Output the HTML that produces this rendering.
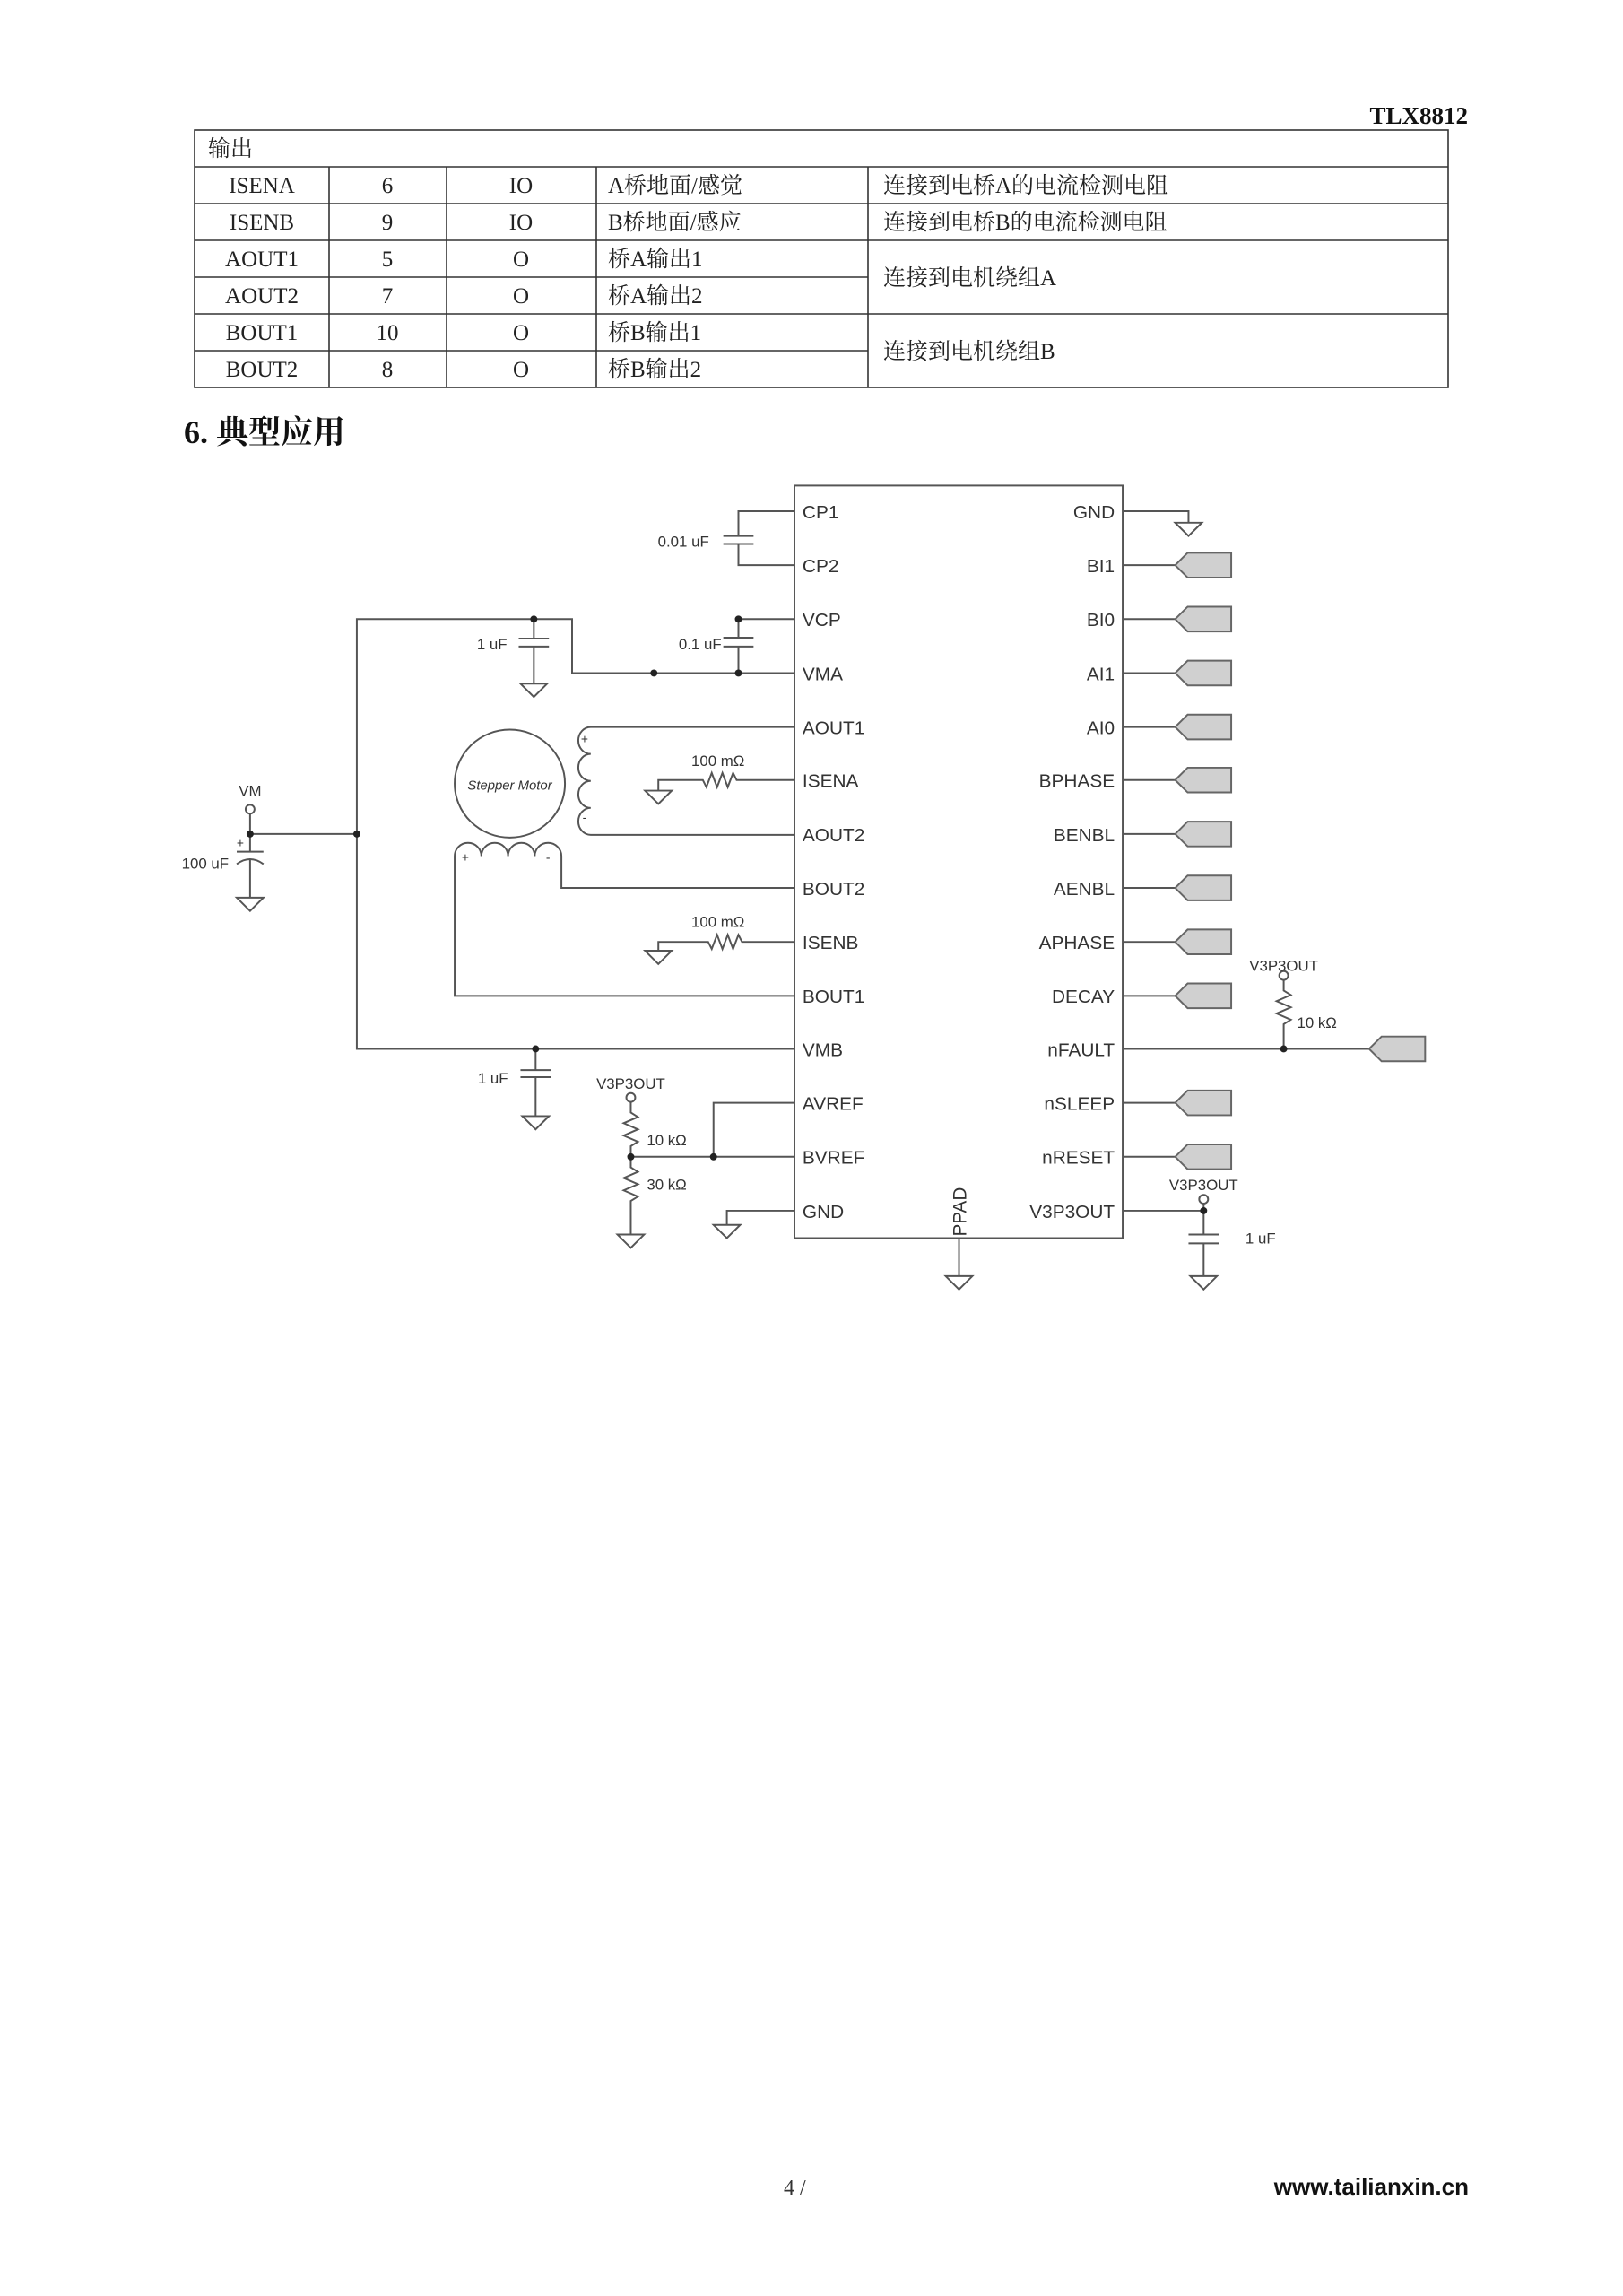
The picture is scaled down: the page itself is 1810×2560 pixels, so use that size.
<!DOCTYPE html>
<html><head><meta charset="utf-8"><style>
html,body{margin:0;padding:0;background:#fff;}
svg{display:block}
.t{font-family:"Liberation Serif","Noto Serif CJK SC",serif;font-size:25px;fill:#222}
.s{font-family:"Liberation Sans",sans-serif;fill:#333}
</style></head><body>
<svg width="1810" height="2560" viewBox="0 0 1810 2560" xmlns="http://www.w3.org/2000/svg">
<!-- header -->
<text x="1637" y="138" text-anchor="end" style="font-family:'Liberation Serif',serif;font-weight:bold;font-size:27px;fill:#111">TLX8812</text>
<!-- table -->
<g stroke="#333" stroke-width="1.6" fill="none">
<rect x="217" y="145" width="1398" height="287"/>
<line x1="217" y1="186" x2="1615" y2="186"/>
<line x1="217" y1="227" x2="1615" y2="227"/>
<line x1="217" y1="268" x2="1615" y2="268"/>
<line x1="217" y1="309" x2="968" y2="309"/>
<line x1="217" y1="350" x2="1615" y2="350"/>
<line x1="217" y1="391" x2="968" y2="391"/>
<line x1="367" y1="186" x2="367" y2="432"/>
<line x1="498" y1="186" x2="498" y2="432"/>
<line x1="665" y1="186" x2="665" y2="432"/>
<line x1="968" y1="186" x2="968" y2="432"/>
</g>
<g class="t">
<text x="232" y="174">输出</text>
<g text-anchor="middle">
<text x="292" y="215">ISENA</text><text x="432" y="215">6</text><text x="581" y="215">IO</text>
<text x="292" y="256">ISENB</text><text x="432" y="256">9</text><text x="581" y="256">IO</text>
<text x="292" y="297">AOUT1</text><text x="432" y="297">5</text><text x="581" y="297">O</text>
<text x="292" y="338">AOUT2</text><text x="432" y="338">7</text><text x="581" y="338">O</text>
<text x="292" y="379">BOUT1</text><text x="432" y="379">10</text><text x="581" y="379">O</text>
<text x="292" y="420">BOUT2</text><text x="432" y="420">8</text><text x="581" y="420">O</text>
</g>
<text x="678" y="215">A桥地面/感觉</text>
<text x="678" y="256">B桥地面/感应</text>
<text x="678" y="297">桥A输出1</text>
<text x="678" y="338">桥A输出2</text>
<text x="678" y="379">桥B输出1</text>
<text x="678" y="420">桥B输出2</text>
<text x="985" y="215">连接到电桥A的电流检测电阻</text>
<text x="985" y="256">连接到电桥B的电流检测电阻</text>
<text x="985" y="318">连接到电机绕组A</text>
<text x="985" y="400">连接到电机绕组B</text>
</g>
<text x="205" y="494" style="font-family:'Liberation Serif','Noto Serif CJK SC',serif;font-weight:bold;font-size:36px;fill:#111">6.  典型应用</text>

<defs>
<g id="gnd"><path d="M-15 0 H15 L0 15 Z" fill="#fff" stroke="#555" stroke-width="2"/></g>
<g id="flag"><path d="M0 0 L14 -14 H63 V14 H14 Z" fill="#d0d0d0" stroke="#666" stroke-width="2"/></g>
</defs>
<g transform="matrix(0.992 0 0 0.986 0.14 7.98)">
<g stroke="#555" stroke-width="2" fill="none">
<rect x="893" y="541" width="369" height="851"/>
<path d="M893 570 H830 V598 M830 607 V631 H893"/>
<path d="M813 598 H847 M813 607 H847"/>
<path d="M401 935 V692 H643 V753 H893"/>
<path d="M830 692 H893 M830 692 V713 M830 723 V753"/>
<path d="M813 713 H847 M813 723 H847"/>
<path d="M600 692 V714 M600 723 V765 M583 714 H617 M583 723 H617"/>
<path d="M281 912 V935 H401 V1178 H893"/>
<path d="M281 935 V955 M266 955 H296 M266 969 Q281 958 296 969 M281 963 V1007"/>
<path d="M893 814 H664 A14 15.25 0 0 0 664 844.5 A14 15.25 0 0 0 664 875 A14 15.25 0 0 0 664 905.5 A14 15.25 0 0 0 664 936 H893"/>
<path d="M893 874 H828 L824 866 L818 882 L812 866 L806 882 L800 866 L794 882 L790 874 H740 V886"/>
<path d="M893 996 H631 V960 A15 15 0 0 0 601 960 A15 15 0 0 0 571 960 A15 15 0 0 0 541 960 A15 15 0 0 0 511 960 V1118 H893"/>
<path d="M893 1057 H834 L830 1049 L824 1065 L818 1049 L812 1065 L806 1049 L800 1065 L796 1057 H740 V1067"/>
<path d="M602 1178 V1202 M602 1210 V1254 M585 1202 H619 M585 1210 H619"/>
<path d="M709 1238 V1250 L717 1255 L701 1262 L717 1269 L701 1276 L717 1283 L709 1288 V1312 L717 1317 L701 1324 L717 1331 L701 1338 L717 1345 L709 1350 V1388"/>
<path d="M709 1300 H893 M802 1300 V1239 H893"/>
<path d="M893 1361 H817 V1377"/>
<path d="M1262 570 H1336 V583"/>
<path d="M1262 631 H1321 M1262 692 H1321 M1262 753 H1321 M1262 814 H1321 M1262 874 H1321 M1262 935 H1321 M1262 996 H1321 M1262 1057 H1321 M1262 1118 H1321 M1262 1239 H1321 M1262 1300 H1321"/>
<path d="M1262 1178 H1539"/>
<path d="M1443 1100 V1112 L1451 1117 L1435 1124 L1451 1131 L1435 1138 L1451 1145 L1443 1150 V1178"/>
<path d="M1262 1361 H1353 M1353 1353 V1388 M1353 1398 V1435 M1336 1388 H1370 M1336 1398 H1370"/>
<path d="M1078 1392 V1435"/>
</g>
<g fill="#fff" stroke="#555" stroke-width="2">
<circle cx="281" cy="907" r="5"/>
<circle cx="709" cy="1233" r="5"/>
<circle cx="1443" cy="1095" r="5"/>
<circle cx="1353" cy="1348" r="5"/>
<ellipse cx="573" cy="878" rx="62" ry="61"/>
</g>
<g fill="#222">
<circle cx="401" cy="935" r="4"/><circle cx="281" cy="935" r="4"/>
<circle cx="600" cy="692" r="4"/><circle cx="830" cy="692" r="4"/>
<circle cx="735" cy="753" r="4"/><circle cx="830" cy="753" r="4"/>
<circle cx="602" cy="1178" r="4"/><circle cx="709" cy="1300" r="4"/><circle cx="802" cy="1300" r="4"/>
<circle cx="1443" cy="1178" r="4"/><circle cx="1353" cy="1361" r="4"/>
</g>
<use href="#gnd" x="600" y="765"/><use href="#gnd" x="281" y="1007"/>
<use href="#gnd" x="740" y="886"/><use href="#gnd" x="740" y="1067"/>
<use href="#gnd" x="602" y="1254"/><use href="#gnd" x="709" y="1388"/>
<use href="#gnd" x="817" y="1377"/><use href="#gnd" x="1336" y="583"/>
<use href="#gnd" x="1078" y="1435"/><use href="#gnd" x="1353" y="1435"/>
<use href="#flag" x="1321" y="631"/><use href="#flag" x="1321" y="692"/><use href="#flag" x="1321" y="753"/>
<use href="#flag" x="1321" y="814"/><use href="#flag" x="1321" y="874"/><use href="#flag" x="1321" y="935"/>
<use href="#flag" x="1321" y="996"/><use href="#flag" x="1321" y="1057"/><use href="#flag" x="1321" y="1118"/>
<use href="#flag" x="1321" y="1239"/><use href="#flag" x="1321" y="1300"/><use href="#flag" x="1539" y="1178"/>
<g class="s" style="font-size:21px">
<text x="902" y="578">CP1</text><text x="902" y="639">CP2</text><text x="902" y="700">VCP</text>
<text x="902" y="761">VMA</text><text x="902" y="822">AOUT1</text><text x="902" y="882">ISENA</text>
<text x="902" y="943">AOUT2</text><text x="902" y="1004">BOUT2</text><text x="902" y="1065">ISENB</text>
<text x="902" y="1126">BOUT1</text><text x="902" y="1186">VMB</text><text x="902" y="1247">AVREF</text>
<text x="902" y="1308">BVREF</text><text x="902" y="1369">GND</text>
<g text-anchor="end">
<text x="1253" y="578">GND</text><text x="1253" y="639">BI1</text><text x="1253" y="700">BI0</text>
<text x="1253" y="761">AI1</text><text x="1253" y="822">AI0</text><text x="1253" y="882">BPHASE</text>
<text x="1253" y="943">BENBL</text><text x="1253" y="1004">AENBL</text><text x="1253" y="1065">APHASE</text>
<text x="1253" y="1126">DECAY</text><text x="1253" y="1186">nFAULT</text><text x="1253" y="1247">nSLEEP</text>
<text x="1253" y="1308">nRESET</text><text x="1253" y="1369">V3P3OUT</text>
</g>
<text transform="translate(1086,1390) rotate(-90)">PPAD</text>
</g>
<g class="s" style="font-size:17px">
<text x="797" y="610" text-anchor="end">0.01 uF</text>
<text x="811" y="726" text-anchor="end">0.1 uF</text>
<text x="570" y="726" text-anchor="end">1 uF</text>
<text x="281" y="892" text-anchor="middle">VM</text>
<text x="257" y="974" text-anchor="end">100 uF</text>
<text x="807" y="858" text-anchor="middle">100 mΩ</text>
<text x="807" y="1040" text-anchor="middle">100 mΩ</text>
<text x="571" y="1217" text-anchor="end">1 uF</text>
<text x="709" y="1223" text-anchor="middle">V3P3OUT</text>
<text x="727" y="1287">10 kΩ</text>
<text x="727" y="1337">30 kΩ</text>
<text x="1443" y="1090" text-anchor="middle">V3P3OUT</text>
<text x="1458" y="1154">10 kΩ</text>
<text x="1353" y="1338" text-anchor="middle">V3P3OUT</text>
<text x="1400" y="1398">1 uF</text>
<text x="573" y="885" text-anchor="middle" style="font-style:italic;font-size:15px">Stepper Motor</text>
<text x="657" y="832" text-anchor="middle" style="font-size:14px">+</text>
<text x="657" y="921" text-anchor="middle" style="font-size:14px">-</text>
<text x="523" y="966" text-anchor="middle" style="font-size:14px">+</text>
<text x="616" y="966" text-anchor="middle" style="font-size:14px">-</text>
<text x="270" y="950" text-anchor="middle" style="font-size:14px">+</text>
</g>
</g>
<!-- footer -->
<text x="874" y="2447" style="font-family:'Liberation Serif',serif;font-size:24px;fill:#333">4 /</text>
<text x="1638" y="2447" text-anchor="end" style="font-family:'Liberation Sans',sans-serif;font-weight:bold;font-size:26px;fill:#111">www.tailianxin.cn</text>
</svg>
</body></html>
